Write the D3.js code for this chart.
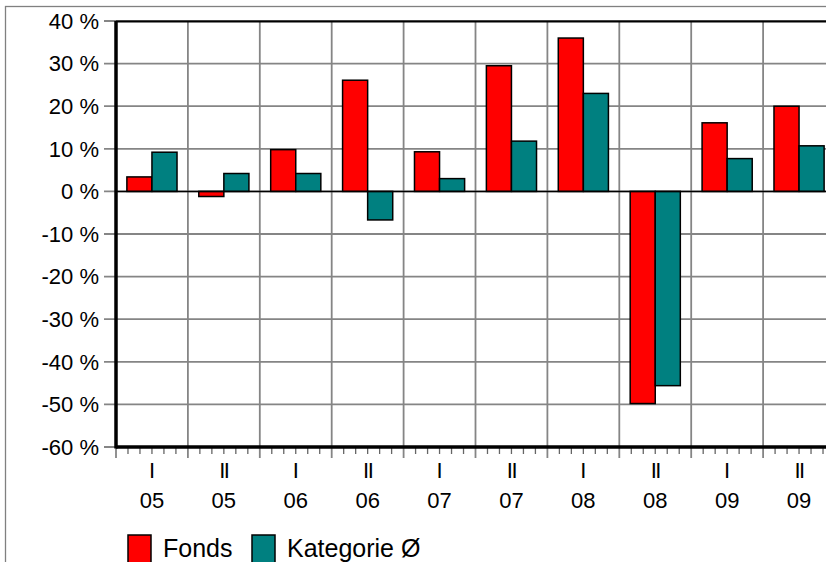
<!DOCTYPE html>
<html>
<head>
<meta charset="utf-8">
<script src="https://cdn.jsdelivr.net/npm/d3@7.9.0/dist/d3.min.js"></script>
<style>
  body { margin: 0; background: #fff; }
  svg { display: block; font-family: "Liberation Sans", Arial, sans-serif; }
</style>
</head>
<body>
<svg id="chart" width="826" height="562"></svg>
<script>
const periods = ["I", "II", "I", "II", "I", "II", "I", "II", "I", "II"];
const years = ["05", "05", "06", "06", "07", "07", "08", "08", "09", "09"];
const fonds = [3.4, -1.2, 9.8, 26.1, 9.3, 29.5, 36.0, -49.8, 16.1, 20.0];
const kategorie = [9.2, 4.2, 4.2, -6.7, 3.0, 11.8, 23.0, -45.6, 7.7, 10.7];
const yTicks = [40, 30, 20, 10, 0, -10, -20, -30, -40, -50, -60];
const seriesNames = ["Fonds", "Kategorie Ø"];
const seriesColors = ["#ff0000", "#008080"];

const svg = d3.select('#chart');
const plotLeft = 116, plotTop = 21, plotBottom = 447;

// outer frame
svg.append('rect')
  .attr('x', 5.5).attr('y', 6.5)
  .attr('width', 900).attr('height', 700)
  .attr('fill', 'none').attr('stroke', '#808080').attr('stroke-width', 1.3);

let cats = d3.range(periods.length);
let x = d3.scaleBand().domain(cats).range([plotLeft, 835]).padding(0);
let xs = d3.scaleBand().domain([0, 1]).range([0, x.bandwidth()]).paddingInner(0).paddingOuter(0.434);
let y = d3.scaleLinear().domain([-60, 40]).range([plotBottom, plotTop]);

// horizontal grid + y ticks
svg.append('g').selectAll('line')
  .data(yTicks)
  .join('line')
  .attr('x1', 104).attr('x2', 826)
  .attr('y1', d => y(d)).attr('y2', d => y(d))
  .attr('stroke', '#858585').attr('stroke-width', 1.8);

// vertical grid + major ticks
svg.append('g').selectAll('line')
  .data(cats.slice(1))
  .join('line')
  .attr('x1', d => x(d)).attr('x2', d => x(d))
  .attr('y1', plotTop).attr('y2', plotBottom + 11)
  .attr('stroke', '#858585').attr('stroke-width', 1.8);

// minor month ticks
let minor = [];
cats.forEach(c => d3.range(1, 6).forEach(k => minor.push(x(c) + x.step() * k / 6)));
svg.append('g').selectAll('line')
  .data(minor)
  .join('line')
  .attr('x1', d => d).attr('x2', d => d)
  .attr('y1', plotBottom).attr('y2', plotBottom + 7)
  .attr('stroke', '#666').attr('stroke-width', 1.3);
svg.append('line')
  .attr('x1', plotLeft).attr('x2', plotLeft)
  .attr('y1', plotBottom).attr('y2', plotBottom + 11)
  .attr('stroke', '#858585').attr('stroke-width', 1.8);

// top border of plot
svg.append('line')
  .attr('x1', plotLeft).attr('x2', 826)
  .attr('y1', plotTop + 0.5).attr('y2', plotTop + 0.5)
  .attr('stroke', '#000').attr('stroke-width', 2);

// bars
let series = [fonds, kategorie];
series.forEach((vals, s) => {
  svg.append('g').selectAll('rect')
    .data(vals)
    .join('rect')
    .attr('x', (d, i) => x(i) + xs(s))
    .attr('y', d => y(Math.max(0, d)))
    .attr('width', xs.bandwidth())
    .attr('height', d => Math.abs(y(d) - y(0)))
    .attr('fill', seriesColors[s])
    .attr('stroke', '#000').attr('stroke-width', 1.5);
});

// zero line
svg.append('line')
  .attr('x1', plotLeft).attr('x2', 826)
  .attr('y1', y(0)).attr('y2', y(0))
  .attr('stroke', '#000').attr('stroke-width', 1.5);

// axes
svg.append('line')
  .attr('x1', plotLeft).attr('x2', plotLeft)
  .attr('y1', plotTop).attr('y2', plotBottom + 1.5)
  .attr('stroke', '#000').attr('stroke-width', 3.5);
svg.append('line')
  .attr('x1', plotLeft).attr('x2', 826)
  .attr('y1', plotBottom).attr('y2', plotBottom)
  .attr('stroke', '#000').attr('stroke-width', 3.5);

// y labels
svg.append('g').selectAll('text')
  .data(yTicks)
  .join('text')
  .attr('x', 99).attr('y', d => y(d) + 7.8)
  .attr('text-anchor', 'end')
  .attr('font-size', 22)
  .attr('fill', '#000')
  .text(d => `${d} %`);

// x labels
svg.append('g').selectAll('text')
  .data(cats)
  .join('text')
  .attr('x', d => x(d) + x.bandwidth() / 2)
  .attr('y', 478)
  .attr('text-anchor', 'middle')
  .attr('font-size', 22)
  .attr('letter-spacing', d => periods[d] === 'II' ? -1.5 : 0)
  .text(d => periods[d]);
svg.append('g').selectAll('text')
  .data(cats)
  .join('text')
  .attr('x', d => x(d) + x.bandwidth() / 2)
  .attr('y', 508)
  .attr('text-anchor', 'middle')
  .attr('font-size', 22)
  .text(d => years[d]);

// legend
let legendX = [128, 252];
seriesNames.forEach((name, s) => {
  let g = svg.append('g').attr('transform', `translate(${legendX[s]},535)`);
  g.append('rect')
    .attr('width', 23).attr('height', 28)
    .attr('fill', seriesColors[s])
    .attr('stroke', '#000').attr('stroke-width', 1.5);
  g.append('text')
    .attr('x', 35).attr('y', 22)
    .attr('font-size', 25)
    .text(name);
});
</script>
</body>
</html>
